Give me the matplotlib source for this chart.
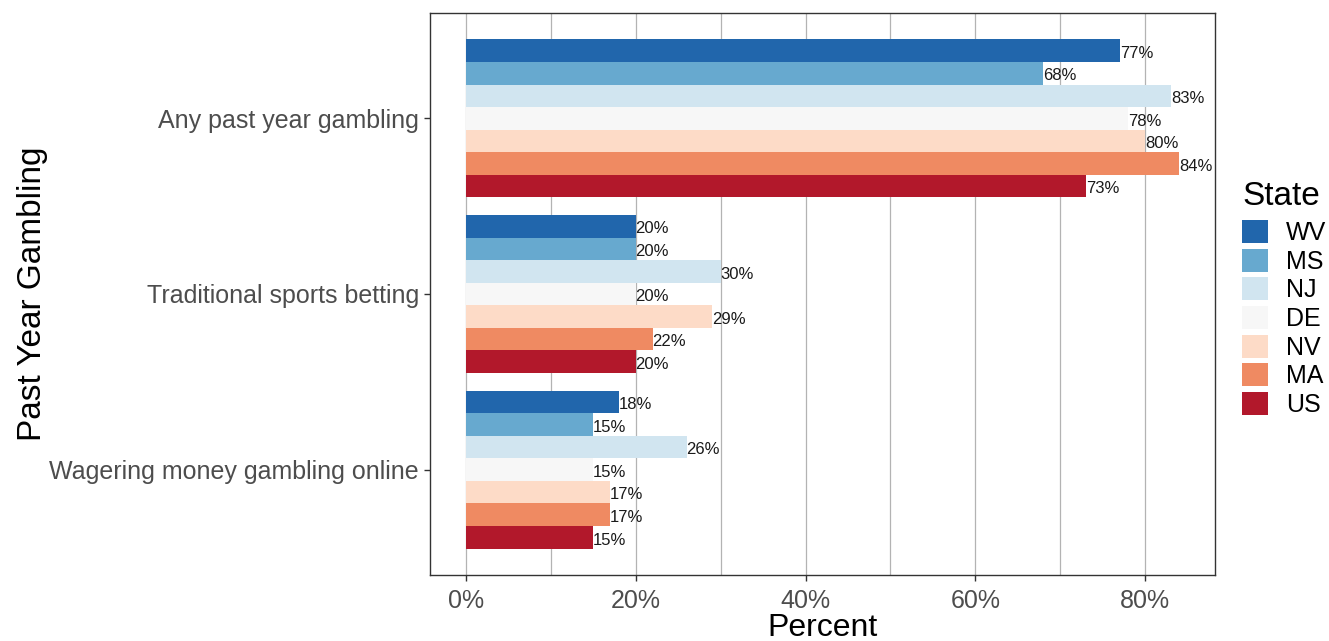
"""
Grouped horizontal bar chart of past year gambling by state (ggplot-like look).
"""

import numpy as np
import matplotlib
matplotlib.use("Agg")
import matplotlib.pyplot as plt
from matplotlib.patches import Patch
from matplotlib.ticker import FixedLocator, PercentFormatter

plt.rcParams["font.family"] = ["Liberation Sans", "DejaVu Sans"]

# data (top to bottom)
categories = ["Any past year gambling", "Traditional sports betting",
              "Wagering money gambling online"]
states = ["WV", "MS", "NJ", "DE", "NV", "MA", "US"]
colors = ["#2166AC", "#67A9CF", "#D1E5F0", "#F7F7F7", "#FDDBC7", "#EF8A62", "#B2182B"]

any_gambling = [77, 68, 83, 78, 80, 84, 73]
sports_betting = [20, 20, 30, 20, 29, 22, 20]
online_wagering = [18, 15, 26, 15, 17, 17, 15]
values = [any_gambling, sports_betting, online_wagering]

fig = plt.figure(figsize=(13.29, 6.41), dpi=100)
ax = fig.add_axes([430 / 1329, 1 - 575 / 641, 785 / 1329, 562 / 641])

n = len(states)
h = 0.9 / n
centers = np.arange(len(categories), 0, -1)  # 3, 2, 1

for gi, (c, vals) in enumerate(zip(centers, values)):
    for i, (v, col) in enumerate(zip(vals, colors)):
        y = c + 0.45 - (i + 0.5) * h
        ax.barh(y, v, height=h, color=col, edgecolor="none", zorder=2)
        ax.text(v, y - 0.015, f"{v}%", ha="left", va="center",
                fontsize=12, color="#1a1a1a", zorder=3)

ax.set_xlim(-4.2, 88.2)
ax.set_ylim(0.4, 3.6)
ax.set_yticks(centers)
ax.set_yticklabels(categories)
ax.xaxis.set_major_locator(FixedLocator([0, 20, 40, 60, 80]))
ax.xaxis.set_minor_locator(FixedLocator([10, 30, 50, 70]))
ax.xaxis.set_major_formatter(PercentFormatter(decimals=0))

ax.grid(axis="x", which="both", color="#b3b3b3", linewidth=0.9, zorder=0)
ax.grid(axis="y", visible=False)
ax.set_axisbelow(True)

for s in ax.spines.values():
    s.set_color("#333333")
    s.set_linewidth(1.0)

ax.tick_params(axis="both", which="major", colors="#333333", length=4,
               width=1.0, labelcolor="#4d4d4d", labelsize=18, pad=4)
ax.tick_params(axis="x", which="major", pad=6)
ax.tick_params(axis="x", which="minor", length=0)

ax.set_xlabel("Percent", fontsize=23, color="black", labelpad=0)
ax.set_ylabel("Past Year Gambling", fontsize=24, color="black", labelpad=1)

handles = [Patch(facecolor=c, edgecolor="none", label=s) for s, c in zip(states, colors)]
leg = fig.legend(handles=handles, title="State", loc="upper left",
                 bbox_to_anchor=(1242 / 1329, 1 - 181 / 641), frameon=False,
                 fontsize=18, title_fontsize=24, handlelength=1.04,
                 handleheight=1.04, labelspacing=0.14, handletextpad=0.72,
                 borderaxespad=0, borderpad=0)
leg._legend_box.align = "left"
leg._legend_box.sep = 6

fig.savefig("out.png", dpi=100)
